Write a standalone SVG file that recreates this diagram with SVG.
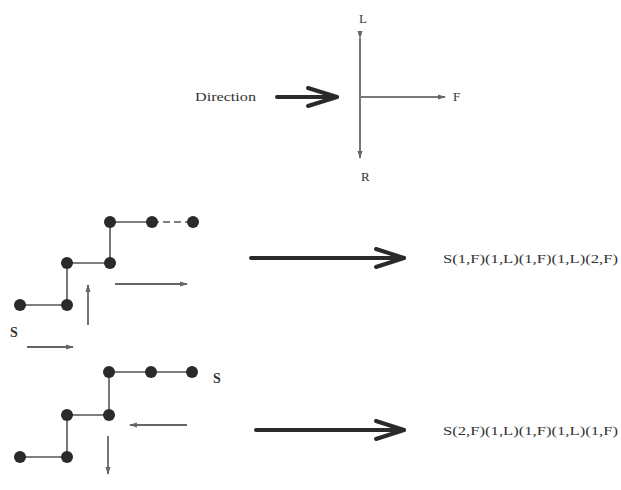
<svg xmlns="http://www.w3.org/2000/svg" width="621" height="490" viewBox="0 0 621 490">
<defs>
<marker id="sm" markerWidth="8" markerHeight="6" refX="7" refY="3" orient="auto" markerUnits="userSpaceOnUse">
<path d="M0,0.5 L8,3 L0,5.5 Z" fill="#666"/>
</marker>
</defs>
<style>
.t{font-family:"Liberation Serif",serif;fill:#333}
.ax{stroke:#777;stroke-width:2;fill:none}
.big{stroke:#2a2a2a;stroke-width:4;fill:none;stroke-linecap:round;stroke-linejoin:round}
.sa{stroke:#666;stroke-width:1.8;fill:none;marker-end:url(#sm)}
.bond{stroke:#555;stroke-width:1.6}
.n{fill:#2a2a2a}
</style>
<rect width="621" height="490" fill="#fff"/>
<g id="legend">
<text class="t" x="195" y="101" font-size="13" textLength="61" lengthAdjust="spacingAndGlyphs">Direction</text>
<line class="ax" x1="360" y1="38" x2="360" y2="158" marker-start="url(#sm)" marker-end="url(#sm)"/>
<line class="ax" x1="360" y1="97" x2="445" y2="97" marker-end="url(#sm)"/>
<text class="t" x="359" y="23" font-size="13">L</text>
<text class="t" x="453" y="101" font-size="13">F</text>
<text class="t" x="361" y="181" font-size="13">R</text>
</g>
<g id="connectors">
<line class="big" x1="277" y1="97" x2="337" y2="97"/>
<path class="big" d="M308,88 L337,97 L308,106" stroke-width="5"/>
<line class="big" x1="251" y1="258" x2="404" y2="258"/>
<path class="big" d="M376,249 L404,258 L376,267" stroke-width="5"/>
<line class="big" x1="256" y1="430" x2="404" y2="430"/>
<path class="big" d="M376,421 L404,430 L376,439" stroke-width="5"/>
<line class="sa" x1="88" y1="325" x2="88" y2="285"/>
<line class="sa" x1="115" y1="284" x2="187" y2="284"/>
<line class="sa" x1="27" y1="347" x2="73" y2="347"/>
<line class="sa" x1="187" y1="425" x2="130" y2="425"/>
<line class="sa" x1="108" y1="436" x2="108" y2="474"/>
</g>
<g id="chain1">
<line class="bond" x1="20" y1="305" x2="67" y2="305"/>
<line class="bond" x1="67" y1="305" x2="67" y2="263"/>
<line class="bond" x1="67" y1="263" x2="110" y2="263"/>
<line class="bond" x1="110" y1="263" x2="110" y2="222"/>
<line class="bond" x1="110" y1="222" x2="152" y2="222"/>
<line class="bond" x1="152" y1="222" x2="193" y2="222" stroke-dasharray="7,4"/>
<circle class="n" cx="20" cy="305" r="6"/>
<circle class="n" cx="67" cy="305" r="6"/>
<circle class="n" cx="67" cy="263" r="6"/>
<circle class="n" cx="110" cy="263" r="6"/>
<circle class="n" cx="110" cy="222" r="6"/>
<circle class="n" cx="152" cy="222" r="6"/>
<circle class="n" cx="193" cy="222" r="6"/>
<text class="t" x="10" y="337" font-size="14" font-weight="bold">S</text>
</g>
<g id="chain2">
<line class="bond" x1="20" y1="457" x2="67" y2="457"/>
<line class="bond" x1="67" y1="457" x2="67" y2="415"/>
<line class="bond" x1="67" y1="415" x2="109" y2="415"/>
<line class="bond" x1="109" y1="415" x2="109" y2="372"/>
<line class="bond" x1="109" y1="372" x2="192" y2="372"/>
<circle class="n" cx="20" cy="457" r="6"/>
<circle class="n" cx="67" cy="457" r="6"/>
<circle class="n" cx="67" cy="415" r="6"/>
<circle class="n" cx="109" cy="415" r="6"/>
<circle class="n" cx="109" cy="372" r="6"/>
<circle class="n" cx="151" cy="372" r="6"/>
<circle class="n" cx="192" cy="372" r="6"/>
<text class="t" x="213" y="383" font-size="14" font-weight="bold">S</text>
</g>
<g id="codes">
<text class="t" x="443" y="263" font-size="13" textLength="175" lengthAdjust="spacingAndGlyphs">S(1,F)(1,L)(1,F)(1,L)(2,F)</text>
<text class="t" x="443" y="435" font-size="13" textLength="175" lengthAdjust="spacingAndGlyphs">S(2,F)(1,L)(1,F)(1,L)(1,F)</text>
</g>
</svg>
